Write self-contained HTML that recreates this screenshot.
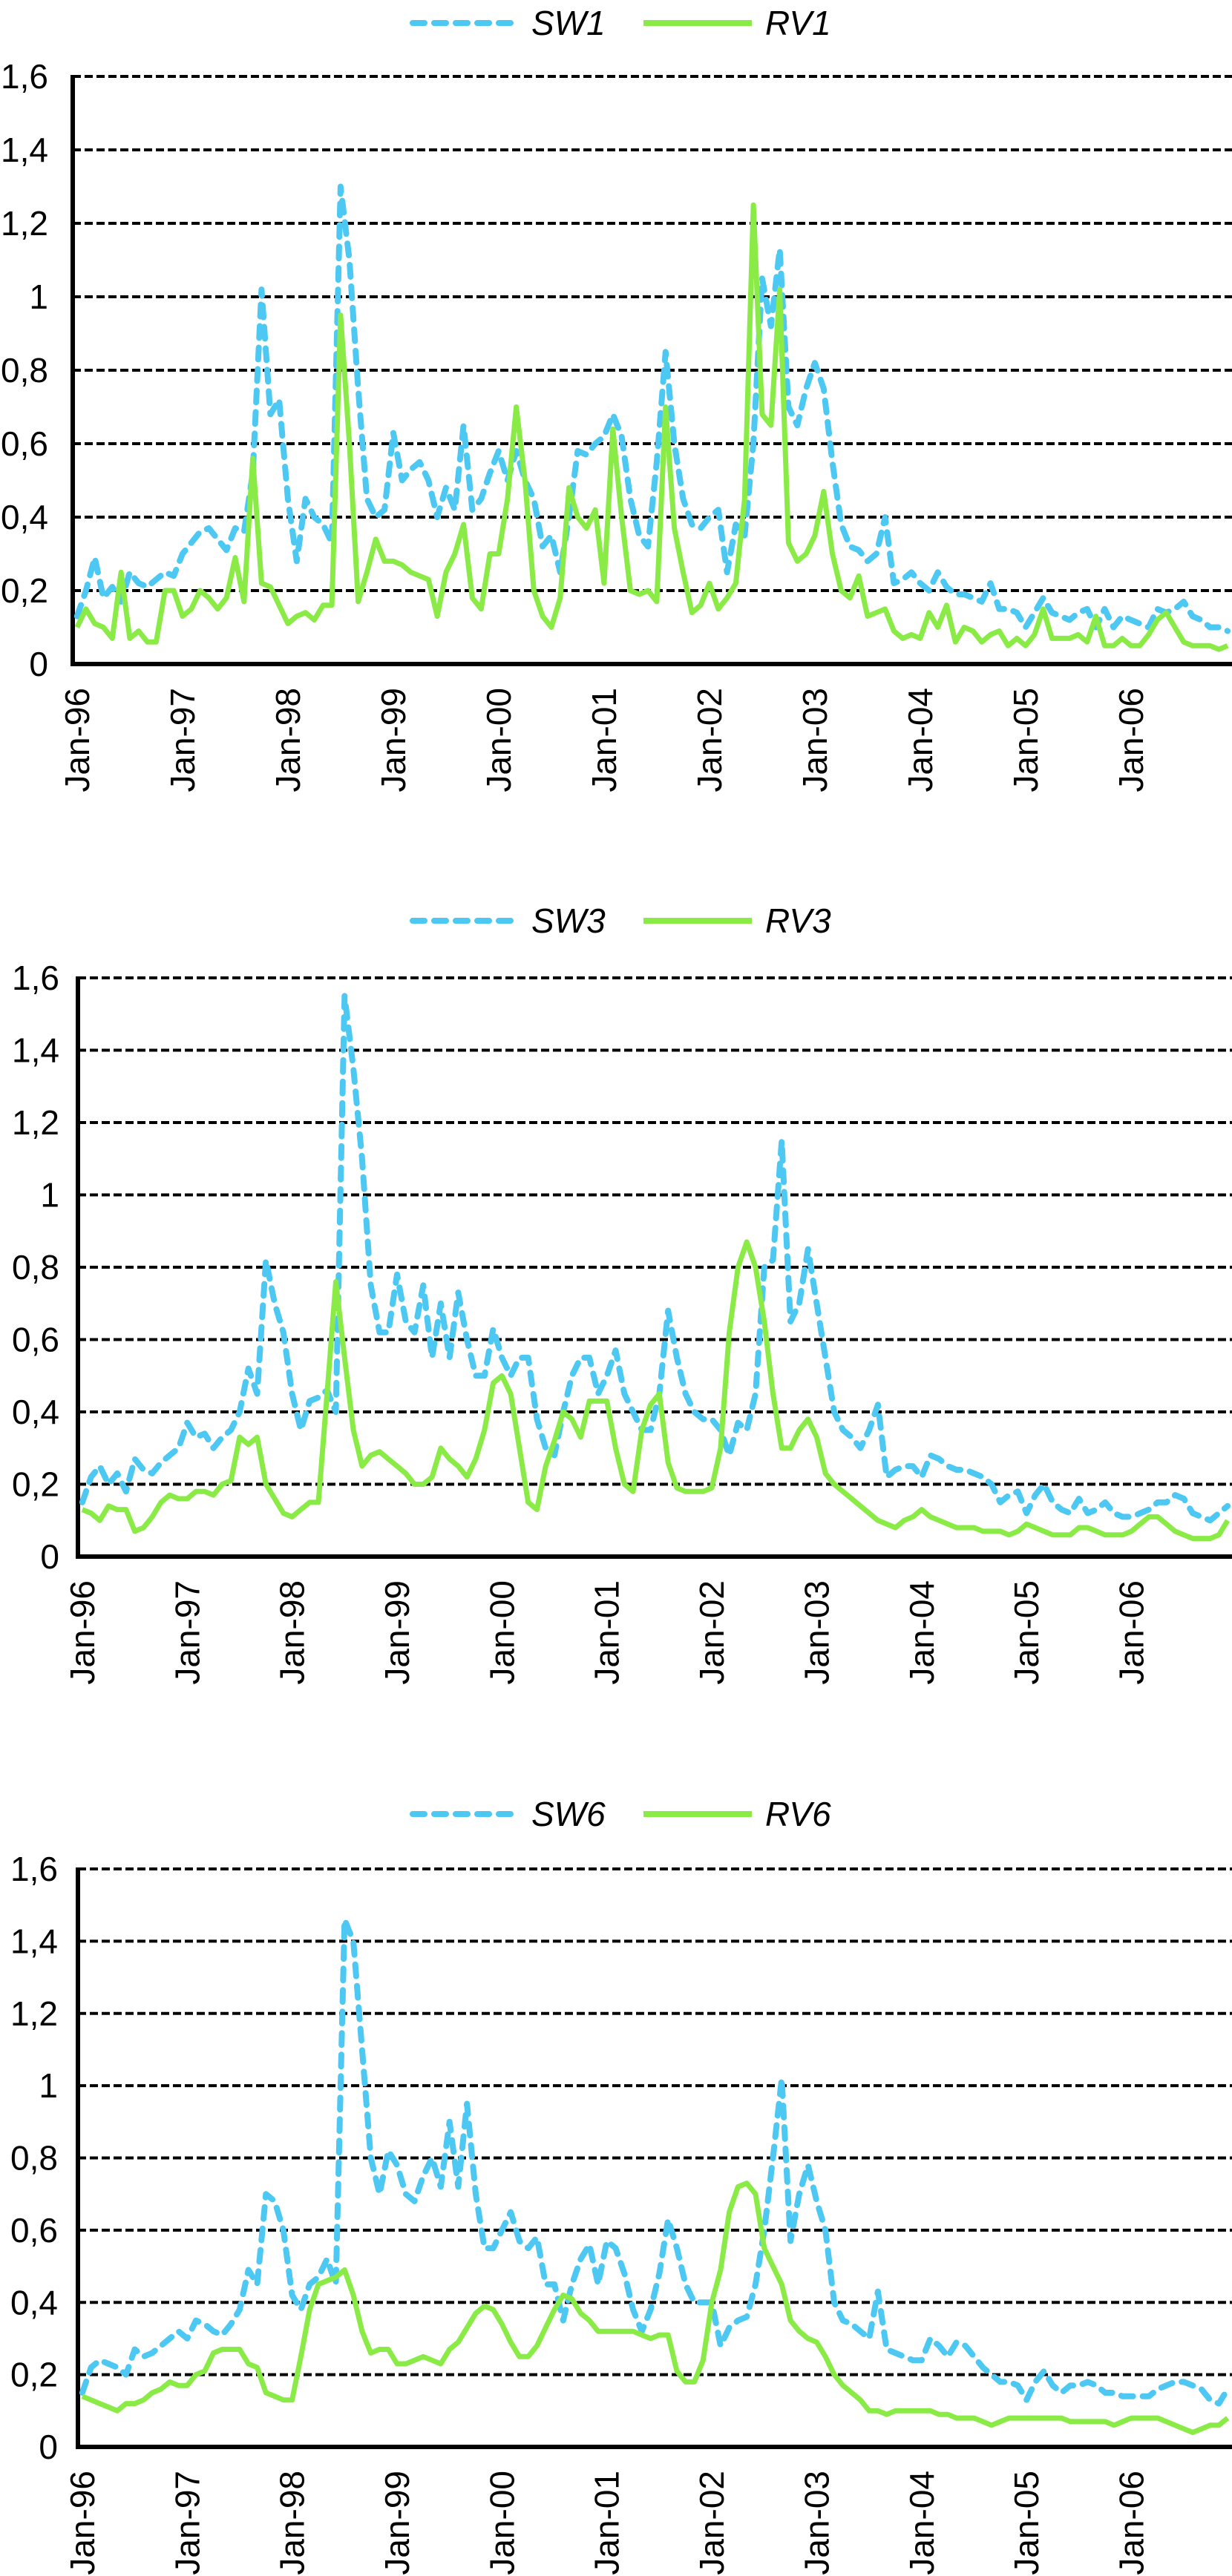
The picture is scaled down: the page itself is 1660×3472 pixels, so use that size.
<!DOCTYPE html>
<html><head><meta charset="utf-8"><style>
html,body{margin:0;padding:0;background:#fff;}
svg{display:block;}
text{font-family:"Liberation Sans",Arial,sans-serif;fill:#000;}
</style></head><body>
<svg id="chart" width="1660" height="3472" viewBox="0 0 1660 3472" xmlns="http://www.w3.org/2000/svg"></svg>
<script>
const yTicks = [0, 0.2, 0.4, 0.6, 0.8, 1, 1.2, 1.4, 1.6];
const yTickLabels = ["0","0,2","0,4","0,6","0,8","1","1,2","1,4","1,6"];
const xTickLabels = ["Jan-96","Jan-97","Jan-98","Jan-99","Jan-00","Jan-01","Jan-02","Jan-03","Jan-04","Jan-05","Jan-06"];
const seriesNames1 = ["SW1","RV1"];
const seriesNames3 = ["SW3","RV3"];
const seriesNames6 = ["SW6","RV6"];
const sw1 = [.13,.2,.29,.18,.21,.17,.25,.22,.21,.23,.25,.24,
.3,.33,.36,.37,.34,.31,.37,.36,.52,1.02,.68,.72,
.45,.28,.45,.4,.38,.33,1.3,1.1,.75,.45,.4,.42,
.63,.5,.53,.55,.5,.4,.48,.42,.65,.42,.45,.52,
.58,.5,.58,.5,.45,.32,.35,.25,.4,.58,.57,.6,
.62,.68,.62,.45,.35,.32,.55,.85,.6,.45,.38,.37,
.4,.42,.25,.38,.35,.6,1.05,.92,1.13,.7,.65,.75,
.82,.75,.55,.38,.32,.31,.28,.3,.4,.22,.23,.25,
.22,.2,.25,.21,.19,.19,.18,.17,.22,.15,.15,.14,
.1,.14,.18,.14,.13,.12,.14,.15,.1,.15,.1,.13,
.12,.11,.1,.15,.14,.15,.17,.13,.12,.1,.1,.09];
const rv1 = [.1,.15,.11,.1,.07,.25,.07,.09,.06,.06,.2,.2,
.13,.15,.2,.18,.15,.18,.29,.17,.56,.22,.21,.16,
.11,.13,.14,.12,.16,.16,.95,.6,.17,.25,.34,.28,
.28,.27,.25,.24,.23,.13,.25,.3,.38,.18,.15,.3,
.3,.45,.7,.5,.2,.13,.1,.18,.48,.4,.37,.42,
.22,.64,.4,.2,.19,.2,.17,.7,.37,.25,.14,.16,
.22,.15,.18,.22,.45,1.25,.68,.65,1.02,.33,.28,.3,
.35,.47,.3,.2,.18,.24,.13,.14,.15,.09,.07,.08,
.07,.14,.1,.16,.06,.1,.09,.06,.08,.09,.05,.07,
.05,.08,.15,.07,.07,.07,.08,.06,.13,.05,.05,.07,
.05,.05,.08,.12,.14,.1,.06,.05,.05,.05,.04,.05];
const sw3 = [.15,.22,.25,.2,.23,.18,.27,.24,.23,.26,.28,.3,
.37,.33,.34,.3,.33,.35,.4,.52,.45,.82,.7,.62,
.45,.35,.43,.44,.46,.4,1.55,1.35,1.1,.75,.62,.62,
.78,.65,.62,.75,.55,.7,.55,.73,.6,.5,.5,.63,
.55,.5,.55,.55,.38,.3,.28,.4,.5,.55,.55,.45,
.5,.57,.45,.4,.35,.35,.45,.68,.55,.45,.4,.38,
.38,.35,.28,.37,.35,.45,.8,.82,1.15,.65,.7,.85,
.7,.55,.4,.35,.33,.3,.35,.42,.22,.24,.25,.25,
.22,.28,.27,.25,.24,.24,.23,.22,.2,.15,.17,.18,
.12,.17,.2,.15,.13,.12,.16,.12,.13,.15,.12,.11,
.11,.12,.13,.15,.15,.17,.16,.12,.11,.1,.12,.14];
const rv3 = [.13,.12,.1,.14,.13,.13,.07,.08,.11,.15,.17,.16,
.16,.18,.18,.17,.2,.21,.33,.31,.33,.2,.16,.12,
.11,.13,.15,.15,.45,.76,.55,.35,.25,.28,.29,.27,
.25,.23,.2,.2,.22,.3,.27,.25,.22,.27,.35,.48,
.5,.45,.3,.15,.13,.25,.32,.4,.38,.33,.43,.43,
.43,.3,.2,.18,.35,.42,.45,.26,.19,.18,.18,.18,
.19,.3,.62,.8,.87,.8,.65,.45,.3,.3,.35,.38,
.33,.23,.2,.18,.16,.14,.12,.1,.09,.08,.1,.11,
.13,.11,.1,.09,.08,.08,.08,.07,.07,.07,.06,.07,
.09,.08,.07,.06,.06,.06,.08,.08,.07,.06,.06,.06,
.07,.09,.11,.11,.09,.07,.06,.05,.05,.05,.06,.1];
const sw6 = [.15,.22,.24,.23,.22,.2,.27,.25,.26,.28,.3,.32,
.3,.35,.34,.32,.31,.34,.38,.49,.45,.7,.68,.6,
.42,.38,.45,.47,.52,.45,1.46,1.4,1.1,.8,.7,.82,
.78,.7,.68,.75,.8,.72,.9,.72,.95,.7,.55,.55,
.6,.65,.57,.55,.58,.45,.45,.35,.45,.52,.56,.45,
.57,.55,.48,.38,.32,.38,.48,.63,.55,.45,.4,.4,
.4,.28,.33,.35,.36,.45,.6,.8,1.02,.57,.7,.78,
.68,.6,.4,.35,.34,.32,.3,.43,.27,.26,.25,.24,
.24,.3,.28,.25,.29,.28,.25,.22,.2,.18,.18,.17,
.13,.18,.21,.17,.15,.17,.17,.18,.17,.15,.15,.14,
.14,.14,.14,.16,.17,.18,.18,.17,.16,.13,.12,.16];
const rv6 = [.14,.13,.12,.11,.1,.12,.12,.13,.15,.16,.18,.17,
.17,.2,.21,.26,.27,.27,.27,.23,.22,.15,.14,.13,
.13,.25,.38,.45,.46,.47,.49,.42,.32,.26,.27,.27,
.23,.23,.24,.25,.24,.23,.27,.29,.33,.37,.39,.38,
.34,.29,.25,.25,.28,.33,.38,.42,.41,.37,.35,.32,
.32,.32,.32,.32,.31,.3,.31,.31,.21,.18,.18,.24,
.4,.49,.65,.72,.73,.7,.55,.5,.45,.35,.32,.3,
.29,.25,.2,.17,.15,.13,.1,.1,.09,.1,.1,.1,
.1,.1,.09,.09,.08,.08,.08,.07,.06,.07,.08,.08,
.08,.08,.08,.08,.08,.07,.07,.07,.07,.07,.06,.07,
.08,.08,.08,.08,.07,.06,.05,.04,.05,.06,.06,.08];

const NS = "http://www.w3.org/2000/svg";
const svg = document.getElementById('chart');
function mk(tag, attrs, parent){
  const e = document.createElementNS(NS, tag);
  for (const k in attrs) e.setAttribute(k, attrs[k]);
  (parent||svg).appendChild(e);
  return e;
}
const panels = [
  {id:"1", names:seriesNames1, sw:sw1, rv:rv1, left:98, top:103, bottom:895, legendY:31, tickRight:65},
  {id:"3", names:seriesNames3, sw:sw3, rv:rv3, left:105, top:1318, bottom:2098, legendY:1241, tickRight:80},
  {id:"6", names:seriesNames6, sw:sw6, rv:rv6, left:105, top:2519, bottom:3298, legendY:2445, tickRight:78}
];
const right = 1660, nCat = 132, blue = "#4cc8f2", green = "#8aeb46";

panels.forEach(p => {
  const g = mk('g', {});
  
  
  const yScale = v => p.bottom - (v / 1.6) * (p.bottom - p.top);
  const step = (right - p.left) / nCat;
  const xScale = i => p.left + step * (i + 0.5);

  // gridlines & y tick labels
  yTicks.forEach((t, k) => {
    const y = yScale(t);
    if (t > 0) {
      const gl = mk('line', {x1:p.left, x2:right, y1:y, y2:y, stroke:'#000', 'stroke-width':4, 'stroke-dasharray':'11 5'}, g);
      
      
    }
    const tx = mk('text', {x:p.tickRight, y:y, 'text-anchor':'end', 'dominant-baseline':'central', 'font-size':46}, g);
    
    
    tx.textContent = yTickLabels[k];
  });
  // axes
  const ya = mk('line', {x1:p.left, x2:p.left, y1:p.top-2, y2:p.bottom+3, stroke:'#000', 'stroke-width':6}, g);
  
  
  const xa = mk('line', {x1:p.left-3, x2:right, y1:p.bottom, y2:p.bottom, stroke:'#000', 'stroke-width':6}, g);
  
  
  // x labels
  xTickLabels.forEach((lab, k) => {
    const x = xScale(k * 12);
    const y = p.bottom + 32;
    const tx = mk('text', {x:0, y:0, 'text-anchor':'end', 'dominant-baseline':'central', 'font-size':46, transform:`translate(${x},${y}) rotate(-90)`}, g);
    
    
    tx.textContent = lab;
  });
  // series
  const pts = arr => arr.map((v, i) => xScale(i).toFixed(1) + ',' + yScale(v).toFixed(1)).join(' ');
  const swl = mk('polyline', {points:pts(p.sw), fill:'none', stroke:blue, 'stroke-width':8, 'stroke-dasharray':'16 13', 'stroke-linecap':'round', 'stroke-linejoin':'round'}, g);
  
  
  const rvl = mk('polyline', {points:pts(p.rv), fill:'none', stroke:green, 'stroke-width':7, 'stroke-linejoin':'round'}, g);
  
  
  // legend
  const ly = p.legendY;
  const l1 = mk('line', {x1:556, x2:696, y1:ly, y2:ly, stroke:blue, 'stroke-width':8, 'stroke-dasharray':'16 13', 'stroke-linecap':'round'}, g);
  
  
  const t1 = mk('text', {x:716, y:ly, 'dominant-baseline':'central', 'font-size':46, 'font-style':'italic'}, g);
  
  
  t1.textContent = p.names[0];
  const l2 = mk('line', {x1:867, x2:1013, y1:ly, y2:ly, stroke:green, 'stroke-width':8}, g);
  
  
  const t2 = mk('text', {x:1031, y:ly, 'dominant-baseline':'central', 'font-size':46, 'font-style':'italic'}, g);
  
  
  t2.textContent = p.names[1];
});
</script>
</body></html>
